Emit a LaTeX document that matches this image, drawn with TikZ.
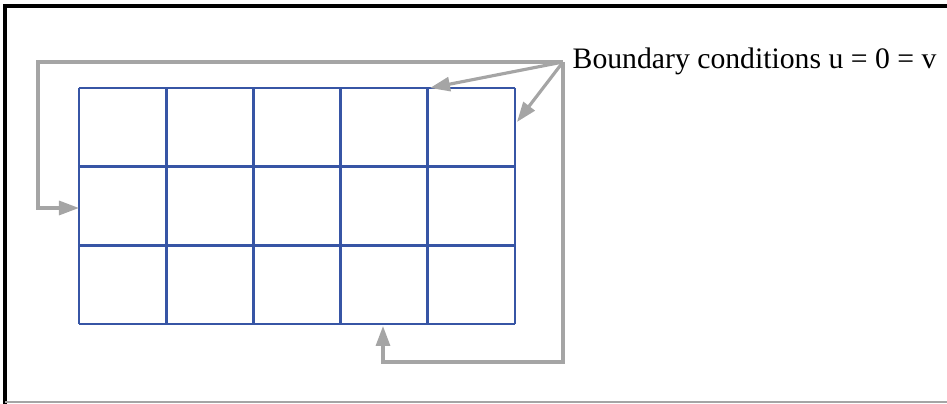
\documentclass[tikz,border=0pt]{standalone}
\usepackage{fontspec}
\setmainfont{Liberation Serif}
\usetikzlibrary{arrows.meta,positioning,calc}
\definecolor{meshblue}{RGB}{55,85,165}
\definecolor{bcgray}{RGB}{165,165,165}
\tikzset{
  mesh/.style    = {draw=meshblue, line width=0.8pt},
  bcline/.style  = {draw=bcgray, line width=0.9pt},
  bcarrow/.style = {bcline, -{Triangle[length=2mm,width=1.4mm]}},
}

\begin{document}
\begin{tikzpicture}[x=0.01cm,y=-0.01cm,font=\fontsize{8.45}{10}\selectfont]
\useasboundingbox (0,0) rectangle (947,404);
% ---------- frame ----------
\draw[line width=1pt] (947,6) -- (5,6) -- (5,404);
\draw[bcgray, line width=0.6pt] (5,402) -- (947,402);
% ---------- mesh ----------
\foreach \i in {0,...,5}
  \draw[mesh] (79+87.2*\i,88) -- (79+87.2*\i,324);
\foreach \j in {0,...,3}
  \draw[mesh] (79,88+78.67*\j) -- (515,88+78.67*\j);
\coordinate (topT) at (430,88);
\coordinate (rightT) at (517,122);
\coordinate (leftT) at (79,208);
\coordinate (botT) at (383,326);
% ---------- boundary conditions ----------
\coordinate (hub) at (563,62);
\coordinate (ltop) at (38,62);
\coordinate (rbot) at (563,362);
\node[anchor=west, inner sep=0pt] (bc) at (572,61) {Boundary conditions u = 0 = v};
\draw[bcarrow] (hub) -- (ltop) |- (leftT);
\draw[bcarrow] (hub) -- (rbot) -| (botT);
\draw[bcarrow] (hub) -- (topT);
\draw[bcarrow] (hub) -- (rightT);
\end{tikzpicture}
\end{document}
